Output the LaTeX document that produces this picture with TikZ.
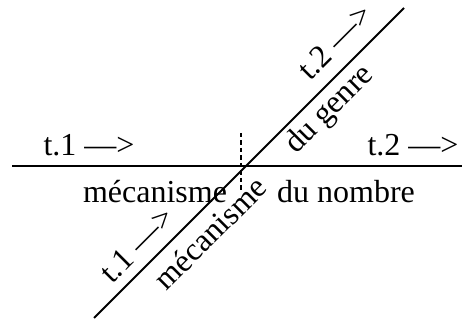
\documentclass[tikz,border=0pt]{standalone}
\usepackage{fontspec}
\setmainfont{Liberation Serif}
\begin{document}
\begin{tikzpicture}[x=1pt,y=1pt,
  lbl/.style={inner sep=0pt, font=\fontsize{32}{38}\selectfont},
  axis/.style={line width=2pt}]
\useasboundingbox (0,0) rectangle (462,320);
\coordinate (hl) at (12,154);
\coordinate (hr) at (462,154);
\coordinate (dl) at (94,2);
\coordinate (dr) at (404,312);
\coordinate (vt) at (241,187);
\coordinate (vb) at (241,128);
\draw[axis] (hl) -- (hr);
\draw[axis] (dl) -- (dr);
\draw[line width=1.3pt, dash pattern=on 4.5pt off 3pt] (vt) -- (vb);
\node[lbl] (t1h) at (89,175) {t.1 —>};
\node[lbl] (t2h) at (413,175) {t.2 —>};
\node[lbl] (mh) at (155,128) {mécanisme};
\node[lbl] (dn) at (346,128) {du nombre};
\node[lbl, rotate=45] (t2d) at (335,278) {t.2 —>};
\node[lbl, rotate=45] (dg) at (330,210) {du genre};
\node[lbl, rotate=45] (t1d) at (137,75) {t.1 —>};
\node[lbl, rotate=45] (md) at (210,87) {mécanisme};
\end{tikzpicture}
\end{document}
